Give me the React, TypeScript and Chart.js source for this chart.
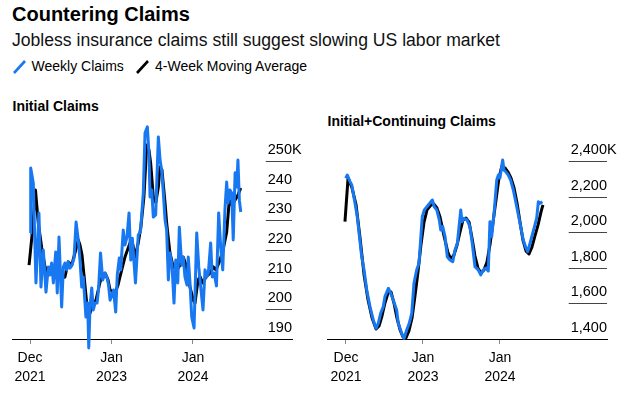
import React, { useEffect, useRef } from "react";
import { Chart, registerables } from "chart.js";

Chart.register(...registerables);

// ---- Data (x = weeks since early Dec 2021, y = thousands) ----
const xTickWeeks = [0, 52, 104];
const xTickLabels = [["Dec", "2021"], ["Jan", "2023"], ["Jan", "2024"]];

const initialTicks = [190, 200, 210, 220, 230, 240, 250];
const totalTicks = [1400, 1600, 1800, 2000, 2200, 2400];

const initialWeekly: [number, number][] = [
  [0, 225.7], [0.45, 247.6], [2.1, 242.6], [3.8, 208.9], [5.7, 232.5], [7.0, 207.5], [8.5, 220],
  [10.2, 205.8], [11.7, 214.3], [12.8, 211.6], [13.8, 215.6], [14.9, 208.9], [16.4, 219.3],
  [17.4, 205.5], [18.5, 224.4], [20.2, 200.8], [21.3, 214.3], [22.3, 215.6], [23.4, 213.3],
  [24.4, 216], [25.5, 213.9], [26.8, 214.9], [28.1, 217.3], [29.4, 229.4], [30.8, 223.4],
  [31.9, 216.6], [33.0, 207.5], [34.0, 210.9], [35.7, 197.4], [36.8, 202.1], [37.5, 187],
  [38.3, 200.8], [39.4, 207.2], [40.4, 199.8], [41.5, 202.1], [42.8, 202.1], [43.7, 206.5],
  [45.0, 219], [46.4, 209.9], [47.9, 212.2], [49.1, 210.9], [50.1, 208.2], [51.1, 203.1],
  [52.3, 204.8], [53.3, 206.5], [54.7, 199.1], [55.7, 211.6], [57.0, 217.3], [57.9, 213.3],
  [59.5, 226.7], [60.6, 221.7], [61.9, 224.4], [63.2, 232.5], [64.3, 216.6], [65.3, 224],
  [67.3, 208.9], [69.1, 225.1], [70.5, 226.1], [72.3, 239.2], [73.4, 259.4], [74.9, 261.5],
  [75.9, 252.7], [76.6, 237.9], [77.7, 240.2], [78.7, 231.1], [80.2, 231.8], [81.9, 258.1],
  [83.0, 250.3], [84.0, 247], [85.1, 239.2], [86.2, 230.1], [87.2, 226.7], [88.3, 209.9],
  [89.3, 219], [90.6, 214.9], [91.9, 202.1], [93.0, 216.6], [94.3, 208.9], [95.3, 227.7],
  [96.8, 214.9], [97.8, 217.6], [98.9, 210.9], [100.2, 208.2], [101.0, 217.6], [102.1, 208.9],
  [103.2, 197.4], [104.7, 193.7], [106.4, 225.7], [107.7, 214.3], [108.5, 209.9], [110.4, 199.8],
  [111.7, 213.3], [112.8, 210.9], [113.8, 212.2], [115.3, 222.4], [116.3, 210.9], [117.6, 212.2],
  [119.0, 207.9], [120.4, 232.5], [121.7, 221], [123.0, 213.3], [124.4, 233.5], [125.5, 242.9],
  [126.4, 235.8], [127.6, 240.2], [128.7, 239.2], [129.7, 223.4], [130.9, 246], [131.9, 241.2],
  [132.7, 250.3], [133.6, 236.8], [134.5, 232.8],
];

const initialAverage: [number, number][] = [
  [-0.6, 214.9], [1.5, 226], [3.5, 240.2], [5.3, 229], [7.5, 220.7], [9.6, 214.3], [11.7, 211.6],
  [14, 212.6], [17.9, 209.9], [20.4, 210.6], [22.3, 210.9], [24.4, 216], [26.6, 214.9], [28.7, 219],
  [30.8, 223.4], [31.9, 221.7], [33.2, 218.3], [36.2, 202.1], [38.3, 198.8], [40.2, 201.5],
  [42.1, 203.1], [44.7, 209.2], [46.6, 211.6], [47.9, 212.2], [49.8, 209.9], [51.1, 206.5],
  [54.2, 205.5], [56.2, 208.2], [57.4, 210.9], [60.6, 217.6], [63.8, 222.4], [65.7, 221.7],
  [67, 217.6], [69.1, 222.4], [70.8, 228], [72.7, 237.9], [74.5, 255.4], [75.9, 253.7],
  [77, 249.3], [78.7, 237.9], [80.3, 236], [81.9, 241.2], [83, 248], [84.2, 247], [86.2, 235.8],
  [87.2, 229.1], [89.3, 219], [91.4, 214.3], [93.8, 213.3], [95.7, 214.9], [97.8, 217.6],
  [99.6, 214.9], [102.1, 207.5], [104.2, 203.1], [105.3, 202.1], [107.2, 209.9], [108.5, 211],
  [110.2, 208.9], [112.3, 210.9], [114.9, 212.2], [117, 214.3], [118.7, 213.3], [121.2, 216.6],
  [123.2, 220], [125.5, 226], [127.2, 236.8], [128.9, 235.2], [130.8, 236.8], [132.7, 238.5],
  [134.5, 240.9],
];

const totalWeekly: [number, number][] = [
  [-0.2, 2303], [0.9, 2321], [2.7, 2284], [3.9, 2265], [6.1, 2162], [7.6, 2087], [10.6, 1862],
  [12.2, 1788], [14.0, 1675], [16.2, 1582], [18.4, 1507], [20.3, 1460], [21.8, 1488], [23.4, 1544],
  [25.2, 1582], [26.3, 1638], [28.6, 1685], [30.2, 1657], [31.9, 1619], [34.2, 1563], [35.3, 1488],
  [37.6, 1432], [39.2, 1404], [41.0, 1451], [42.7, 1488], [44.4, 1544], [45.9, 1713], [47.7, 1788],
  [49.3, 1825], [50.4, 1956], [51.5, 2087], [52.9, 2125], [55.6, 2153], [58.3, 2181], [59.6, 2143],
  [61.3, 2125], [63.0, 2069], [64.0, 2012], [65.3, 2031], [66.9, 1975], [68.4, 1862], [70.2, 1844],
  [72.1, 1834], [73.6, 1900], [75.2, 1938], [77.5, 2125], [78.3, 2059], [79.7, 2078], [81.7, 2069],
  [83.7, 2031], [85.4, 1928], [87.1, 1806], [89.3, 1788], [91.0, 1760], [92.7, 1788], [94.5, 1799],
  [96.1, 1782], [97.2, 2059], [98.4, 1975], [99.9, 2097], [101.8, 2293], [102.9, 2321], [104.0, 2305],
  [105.1, 2368], [105.8, 2406], [106.7, 2349], [108.1, 2338], [109.6, 2321], [111.2, 2293],
  [113.0, 2237], [115.3, 2143], [117.5, 2050], [119.7, 1956], [121.6, 1910], [122.7, 1891],
  [124.3, 1938], [126.1, 1994], [127.6, 2041], [128.8, 2080], [129.9, 2171], [131.0, 2162],
  [132.6, 2171],
];

const totalAverage: [number, number][] = [
  [-0.7, 2059], [1.4, 2305], [4.1, 2248], [6.8, 2153], [9.5, 1967], [12.2, 1760], [14.9, 1619],
  [17.6, 1518], [20.3, 1456], [22.3, 1473], [24.3, 1529], [26.3, 1602], [28.4, 1658], [30.4, 1664],
  [32.4, 1602], [34.4, 1518], [36.5, 1451], [38.5, 1411], [40.5, 1406], [42.5, 1445], [44.6, 1518],
  [46.6, 1642], [48.6, 1776], [50.6, 1928], [52.7, 2057], [54.7, 2125], [57.4, 2153], [59.4, 2158],
  [61.4, 2136], [63.5, 2085], [66.2, 1979], [68.9, 1883], [70.9, 1849], [72.9, 1872], [75.0, 1928],
  [77.0, 2001], [79.0, 2069], [81.0, 2080], [83.1, 2057], [85.1, 1967], [87.1, 1866], [89.1, 1799],
  [91.2, 1771], [93.2, 1788], [95.2, 1833], [97.2, 1928], [99.3, 2057], [101.3, 2181], [103.3, 2305],
  [105.3, 2372], [107.4, 2361], [109.4, 2338], [111.4, 2305], [113.5, 2248], [115.5, 2164],
  [117.5, 2057], [119.5, 1956], [121.6, 1894], [123.6, 1878], [125.6, 1917], [127.6, 1979],
  [129.7, 2041], [131.7, 2114], [133.0, 2153],
];

// ---- Styles ----
const FONT = '"Liberation Sans", Arial, Helvetica, sans-serif';
const BLUE = "#1778f2";

function makeYLabelPlugin(values: number[], format: (v: number) => string) {
  return {
    id: "yLabels",
    afterDraw(chart: any) {
      const { ctx, chartArea } = chart;
      const y = chart.scales.y;
      ctx.save();
      ctx.font = `14.5px ${FONT}`;
      const labels = values.map(format);
      const widest = Math.max(...labels.map((l) => ctx.measureText(l).width));
      const right = chartArea.right;
      values.forEach((v, i) => {
        const py = Math.round(y.getPixelForValue(v)) + 0.5;
        if (i > 0) {
          ctx.strokeStyle = "#444";
          ctx.lineWidth = 1;
          ctx.beginPath();
          ctx.moveTo(right - widest - 2, py);
          ctx.lineTo(right, py);
          ctx.stroke();
        }
        ctx.fillStyle = "#000";
        ctx.textBaseline = "alphabetic";
        ctx.textAlign = "right";
        ctx.fillText(labels[i], right, py - 8);
        if (i === values.length - 1) {
          ctx.textAlign = "left";
          ctx.fillText("K", right, py - 8);
        }
      });
      ctx.restore();
    },
  };
}

type PanelProps = {
  left: number;
  width: number;
  weekly: [number, number][];
  average: [number, number][];
  xMin: number;
  xMax: number;
  yMin: number;
  yMax: number;
  ticks: number[];
  format: (v: number) => string;
  padding: { left: number; right: number; top: number; bottom: number };
};

const TOP = 100;
const HEIGHT = 298;

function Panel(p: PanelProps) {
  const ref = useRef<HTMLCanvasElement>(null);
  useEffect(() => {
    if (!ref.current) return;
    const chart = new Chart(ref.current, {
      type: "line",
      data: {
        datasets: [
          {
            data: p.weekly.map(([x, y]) => ({ x, y })),
            borderColor: BLUE,
            borderWidth: 3,
            pointRadius: 0,
            tension: 0,
            borderJoinStyle: "round",
            clip: false,
            order: 0,
          } as any,
          {
            data: p.average.map(([x, y]) => ({ x, y })),
            borderColor: "#000",
            borderWidth: 3,
            pointRadius: 0,
            tension: 0,
            borderJoinStyle: "round",
            clip: false,
            order: 1,
          } as any,
        ],
      },
      options: {
        animation: false,
        responsive: false,
        events: [],
        layout: { padding: p.padding },
        plugins: { legend: { display: false }, tooltip: { enabled: false } },
        scales: {
          x: {
            type: "linear",
            min: p.xMin,
            max: p.xMax,
            afterBuildTicks: (a: any) => {
              a.ticks = xTickWeeks.map((v) => ({ value: v }));
            },
            afterFit: (a: any) => {
              a.height = 50;
            },
            ticks: {
              callback: (_v: any, i: number) => xTickLabels[i],
              font: { family: FONT, size: 14, lineHeight: 19 / 14 },
              color: "#000",
              padding: 5,
              maxRotation: 0,
              autoSkip: false,
            },
            grid: { drawOnChartArea: false, drawTicks: true, tickLength: 5, color: "#888" },
            border: { display: true, color: "#000", width: 1 },
          },
          y: { display: false, min: p.yMin, max: p.yMax },
        },
      } as any,
      plugins: [makeYLabelPlugin(p.ticks, p.format)],
    });
    return () => chart.destroy();
  }, []);
  return (
    <canvas
      ref={ref}
      width={p.width}
      height={HEIGHT}
      style={{ position: "absolute", left: p.left, top: TOP, width: p.width, height: HEIGHT }}
    />
  );
}

const textBase: React.CSSProperties = {
  position: "absolute",
  whiteSpace: "nowrap",
  fontFamily: FONT,
  color: "#000",
  margin: 0,
};

function Slash({ left, color }: { left: number; color: string }) {
  return (
    <svg style={{ position: "absolute", left, top: 60 }} width={13} height={14}>
      <line x1={1} y1={13} x2={12} y2={1} stroke={color} strokeWidth={2.6} />
    </svg>
  );
}

export default function App() {
  return (
    <div style={{ position: "fixed", left: 0, top: 0, width: 633, height: 398, background: "#fff", overflow: "hidden" }}>
      <div style={{ ...textBase, left: 12, top: 4, fontSize: 20, lineHeight: "20px", fontWeight: 700 }}>
        Countering Claims
      </div>
      <div style={{ ...textBase, left: 12, top: 31.8, fontSize: 17.6, lineHeight: "17.6px", color: "#111" }}>
        Jobless insurance claims still suggest slowing US labor market
      </div>
      <Slash left={12.5} color={BLUE} />
      <div style={{ ...textBase, left: 31.5, top: 59.2, fontSize: 14, lineHeight: "14px" }}>Weekly Claims</div>
      <Slash left={136} color="#000" />
      <div style={{ ...textBase, left: 155, top: 59.2, fontSize: 14, lineHeight: "14px" }}>4-Week Moving Average</div>
      <div style={{ ...textBase, left: 12.5, top: 98.9, fontSize: 14, lineHeight: "14px", fontWeight: 700 }}>
        Initial Claims
      </div>
      <div style={{ ...textBase, left: 327.5, top: 113.9, fontSize: 14, lineHeight: "14px", fontWeight: 700 }}>
        Initial+Continuing Claims
      </div>
      <Panel
        left={0}
        width={316}
        weekly={initialWeekly}
        average={initialAverage}
        xMin={-11.49}
        xMax={167.2}
        yMin={190}
        yMax={265}
        ticks={initialTicks}
        format={(v) => String(v)}
        padding={{ left: 12, right: 24, top: 16.5, bottom: 9 }}
      />
      <Panel
        left={316}
        width={317}
        weekly={totalWeekly}
        average={totalAverage}
        xMin={-12.83}
        xMax={176.26}
        yMin={1400}
        yMax={2460}
        ticks={totalTicks}
        format={(v) => v.toLocaleString("en-US")}
        padding={{ left: 11, right: 26, top: 50.3, bottom: 9 }}
      />
    </div>
  );
}
